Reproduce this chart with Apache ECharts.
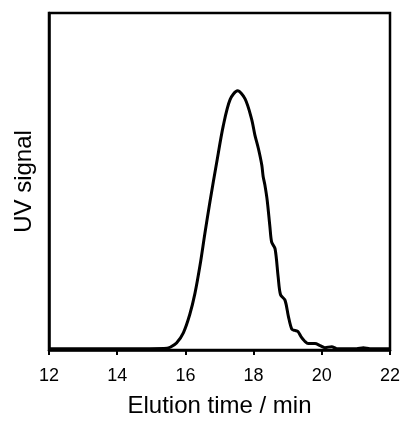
<!DOCTYPE html>
<html>
<head>
<meta charset="utf-8">
<script src="https://cdn.jsdelivr.net/npm/echarts@6/dist/echarts.min.js"></script>
<style>
  html, body { margin: 0; padding: 0; background: #fff; }
  #chart { width: 404px; height: 423px; }
</style>
</head>
<body>
<div id="chart"></div>
<script>
// elution time (min) and UV signal (arbitrary units)
const times = [12, 14, 14.96, 15.46, 15.55, 15.74, 15.94, 16.13, 16.28, 16.43, 16.57, 16.72, 16.92, 17.11, 17.31, 17.53,
  17.75, 17.94, 18.04, 18.14, 18.24, 18.28, 18.33, 18.40, 18.48, 18.53, 18.63, 18.72, 18.79, 18.92, 19.02, 19.12,
  19.21, 19.30, 19.40, 19.50, 19.60, 19.80, 19.95, 20.09, 20.29, 20.44, 21.02, 21.22, 21.41, 22];
const signal = [0.004, 0.004, 0.004, 0.005, 0.008, 0.021, 0.051, 0.106, 0.168, 0.252, 0.345, 0.440, 0.558, 0.665, 0.743, 0.769,
  0.745, 0.686, 0.637, 0.598, 0.549, 0.515, 0.490, 0.443, 0.364, 0.320, 0.300, 0.217, 0.164, 0.148, 0.100, 0.062,
  0.058, 0.055, 0.038, 0.026, 0.019, 0.019, 0.013, 0.007, 0.010, 0.004, 0.004, 0.007, 0.004, 0.004];
const xTicks = [12, 14, 16, 18, 20, 22];

const chart = echarts.init(document.getElementById('chart'));

const font = 'Liberation Sans, Arial, sans-serif';

chart.setOption({
  animation: false,
  grid: {
    left: 49,
    right: 14,
    top: 13,
    bottom: 69,
    show: true,
    borderColor: '#000',
    borderWidth: 2.5
  },
  xAxis: {
    type: 'value',
    min: xTicks[0],
    max: xTicks[xTicks.length - 1],
    interval: 2,
    name: 'Elution time / min',
    nameLocation: 'middle',
    nameGap: 44,
    nameTextStyle: { color: '#000', fontSize: 24, fontFamily: font },
    axisLine: { lineStyle: { color: '#000', width: 2.5 } },
    axisTick: { show: true, length: 5, lineStyle: { color: '#000', width: 2 } },
    axisLabel: { color: '#000', fontSize: 18, fontFamily: font, margin: 17 },
    splitLine: { show: false }
  },
  yAxis: {
    type: 'value',
    min: 0,
    max: 1,
    name: 'UV signal',
    nameLocation: 'middle',
    nameGap: 13,
    nameTextStyle: { color: '#000', fontSize: 24, fontFamily: font },
    axisLine: { show: true, lineStyle: { color: '#000', width: 2.5 } },
    axisTick: { show: false },
    axisLabel: { show: false },
    splitLine: { show: false }
  },
  series: [{
    type: 'line',
    data: times.map((t, i) => [t, signal[i]]),
    smooth: 0.3,
    showSymbol: false,
    lineStyle: { color: '#000', width: 3 }
  }]
});
</script>
</body>
</html>
